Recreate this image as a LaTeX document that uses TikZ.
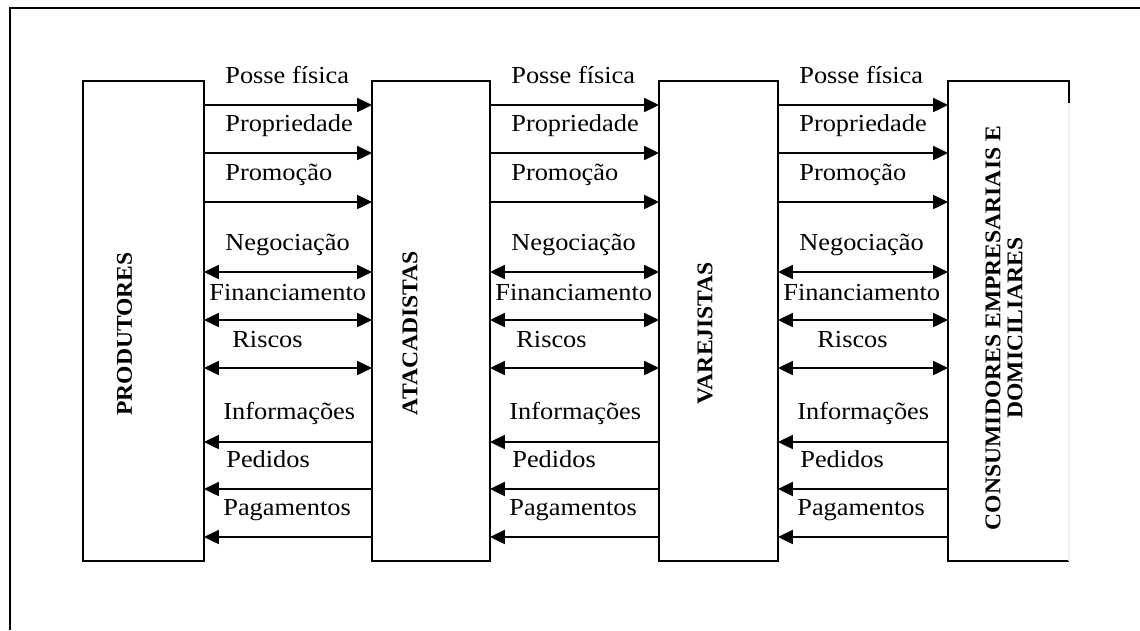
\documentclass[tikz,border=0pt]{standalone}
\usepackage{fontspec}
\setmainfont{Liberation Serif}
\usepackage{graphicx}
\usetikzlibrary{arrows.meta,positioning}

\newcommand{\stretchtxt}[1]{\scalebox{1.08}[1]{#1}}
\newcommand{\stretchbold}[1]{\scalebox{1.05}[1]{#1}}

\tikzset{
  agent/.style={draw, line width=1.1pt, inner sep=0pt, outer sep=0pt, minimum height=9.6cm},
  agenttxt/.style={rotate=90, inner sep=0pt, font=\fontsize{12.8pt}{12.5pt}\selectfont\bfseries},
  lbl/.style={inner sep=0pt, font=\fontsize{13.9pt}{15pt}\selectfont},
  fwd/.style={line width=1.1pt, -{Triangle[length=8.5pt,width=8pt]}},
  bwd/.style={line width=1.1pt, {Triangle[length=8.5pt,width=8pt]}-},
  both/.style={line width=1.1pt, {Triangle[length=8.5pt,width=8pt]}-{Triangle[length=8.5pt,width=8pt]}}
}

\begin{document}
\begin{tikzpicture}[x=0.02cm, y=-0.02cm]
  \useasboundingbox (0,0) rectangle (1140,630);

  % moldura
  \draw[line width=1.1pt] (1140,8) -- (10,8) -- (10,630);

  % membros do canal
  \node[agent, minimum width=2.42cm] (prod) at (143.5,321) {};
  \node[agent, minimum width=2.36cm] (atac) at (431,321) {};
  \node[agent, minimum width=2.38cm] (varej) at (718.5,321) {};
  \node[agent, minimum width=2.42cm, draw=none] (cons) at (1008.5,321) {};
  \draw[line width=1.1pt] ([yshift=-0.44cm]cons.north east) -- (cons.north east) -- (cons.north west)
    -- (cons.south west) -- (cons.south east);
  \draw[gray!12, line width=0.6pt] ([yshift=-0.44cm]cons.north east) -- (cons.south east);

  \node[agenttxt] (prodtxt) at ([xshift=-0.38cm,yshift=-0.26cm]prod.center) {\stretchbold{PRODUTORES}};
  \node[agenttxt] (atactxt) at ([xshift=-0.42cm,yshift=-0.24cm]atac.center) {\stretchbold{ATACADISTAS}};
  \node[agenttxt] (varejtxt) at ([xshift=-0.27cm,yshift=-0.24cm]varej.center) {\stretchbold{VAREJISTAS}};
  \node[agenttxt, align=center] (constxt) at ([xshift=-0.09cm,yshift=-0.14cm]cons.center)
    {\stretchbold{CONSUMIDORES EMPRESARIAIS E}\\\stretchbold{DOMICILIARES}};

  % fluxos
  \foreach \a/\b/\rx in {prod/atac/28, atac/varej/26, varej/cons/39} {
    \foreach \y in {105,153,202}
      \draw[fwd] (\a.east |- 0,\y) -- (\b.west |- 0,\y);
    \foreach \y in {272,320,368}
      \draw[both] (\a.east |- 0,\y) -- (\b.west |- 0,\y);
    \foreach \y in {442,489,537}
      \draw[bwd] (\a.east |- 0,\y) -- (\b.west |- 0,\y);
    \foreach \n/\yb/\dx/\txt in {posse/83/21/Posse física, prop/131/21/Propriedade,
        prom/180/21/Promoção, neg/250/21/Negociação, fin/300/5/Financiamento,
        risc/347/\rx/Riscos, info/419/19/Informações, ped/467/22/Pedidos,
        pag/515/19/Pagamentos}
      \node[lbl, anchor=base west] (\a-\n) at ([xshift=\dx*0.02cm]\a.east |- 0,\yb) {\stretchtxt{\txt}};
  }
\end{tikzpicture}
\end{document}
